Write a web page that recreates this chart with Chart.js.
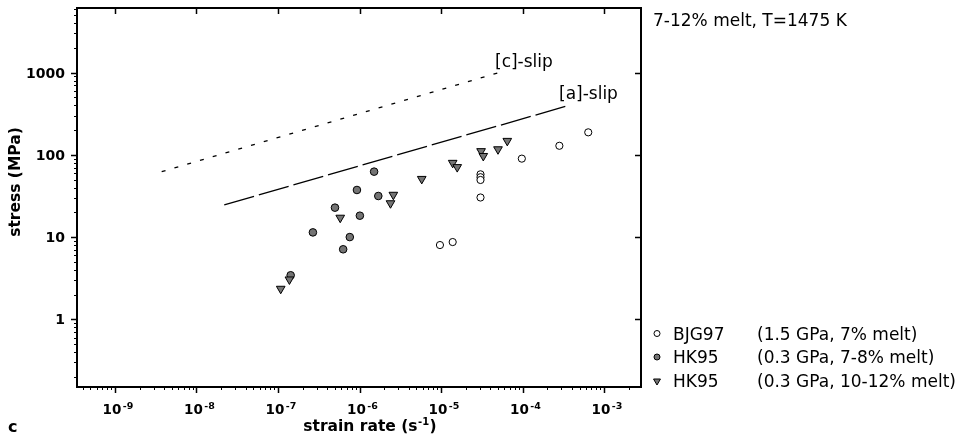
<!DOCTYPE html>
<html>
<head>
<meta charset="utf-8">
<script src="https://cdn.jsdelivr.net/npm/chart.js@4.4.0/dist/chart.umd.min.js"></script>
<style>
  html, body { margin: 0; padding: 0; background: #fff; }
</style>
</head>
<body>
<canvas id="grafico" width="968" height="438"></canvas>
<script>
// BJG97 (1.5 GPa, 7% melt)
var taxaBJG97 = [9.7e-6, 1.39e-5, 3.05e-5, 3.05e-5, 3.05e-5, 3.05e-5, 9.8e-5, 2.83e-4, 6.4e-4];
var tensaoBJG97 = [8.0, 8.7, 58, 53.5, 49.5, 30.3, 90, 129, 188];

// HK95 (0.3 GPa, 7-8% melt)
var taxaHK95a = [1.43e-7, 2.68e-7, 5.0e-7, 6.3e-7, 7.6e-7, 9.3e-7, 1.01e-6, 1.51e-6, 1.70e-6];
var tensaoHK95a = [3.43, 11.4, 22.8, 7.1, 10.0, 37.4, 18.2, 62.5, 31.6];

// HK95 (0.3 GPa, 10-12% melt)
var taxaHK95b = [1.08e-7, 1.38e-7, 5.8e-7, 2.4e-6, 2.6e-6, 5.8e-6, 1.39e-5, 1.58e-5, 3.1e-5, 3.3e-5, 5.0e-5, 6.5e-5];
var tensaoHK95b = [2.35, 3.05, 17.2, 25.8, 32.7, 51, 80, 71, 111, 97, 117, 148];

// linhas de fluxo [c]-slip e [a]-slip
var taxaSlipC = [3.74e-9, 5.56e-5];
var tensaoSlipC = [62.5, 1028];
var taxaSlipA = [2.19e-8, 3.48e-4];
var tensaoSlipA = [24.6, 393];

// ticks dos eixos
var expoentesX = [-9, -8, -7, -6, -5, -4, -3];
var valoresY = [1, 10, 100, 1000];

var legendas = [
    { nome: 'BJG97', desc: '(1.5 GPa, 7% melt)' },
    { nome: 'HK95', desc: '(0.3 GPa, 7-8% melt)' },
    { nome: 'HK95', desc: '(0.3 GPa, 10-12% melt)' }
];

function pontos(xs, ys) {
    var lista = [];
    for (var i = 0; i < xs.length; i++) {
        lista.push({ x: xs[i], y: ys[i] });
    }
    return lista;
}

var CINZA = '#747474';
var FONTE = "'DejaVu Sans'";

var estiloPontos = [
    { pointStyle: 'circle', radius: 3.6, backgroundColor: '#ffffff', rotation: 0 },
    { pointStyle: 'circle', radius: 3.8, backgroundColor: CINZA, rotation: 0 },
    { pointStyle: 'triangle', radius: 5, backgroundColor: CINZA, rotation: 180 }
];

// desenha moldura, ticks e todos os textos
var eixos = {
    id: 'eixos',
    afterDraw: function (chart) {
        var ctx = chart.ctx;
        var a = chart.chartArea;
        var sx = chart.scales.x;
        var sy = chart.scales.y;
        ctx.save();
        ctx.strokeStyle = '#000';
        ctx.fillStyle = '#000';
        ctx.lineWidth = 2;
        ctx.strokeRect(a.left, a.top, a.right - a.left, a.bottom - a.top);

        ctx.lineWidth = 1.5;
        ctx.beginPath();
        expoentesX.forEach(function (e) {
            var px = Math.round(sx.getPixelForValue(Math.pow(10, e))) + 0.5;
            ctx.moveTo(px, a.bottom); ctx.lineTo(px, a.bottom + 6);
            ctx.moveTo(px, a.top); ctx.lineTo(px, a.top + 6);
        });
        valoresY.forEach(function (v) {
            var py = Math.round(sy.getPixelForValue(v)) + 0.5;
            ctx.moveTo(a.left, py); ctx.lineTo(a.left - 6, py);
            ctx.moveTo(a.right, py); ctx.lineTo(a.right - 6, py);
        });
        ctx.stroke();

        // ticks menores (2..9 de cada década)
        ctx.lineWidth = 1;
        ctx.beginPath();
        for (var e = -11; e <= -1; e++) {
            for (var k = 2; k <= 9; k++) {
                var v = k * Math.pow(10, e);
                if (v <= sx.min || v >= sx.max) continue;
                var px = Math.round(sx.getPixelForValue(v)) + 0.5;
                ctx.moveTo(px, a.bottom); ctx.lineTo(px, a.bottom + 3);
            }
        }
        for (var e2 = -1; e2 <= 4; e2++) {
            for (var k2 = 2; k2 <= 9; k2++) {
                var v2 = k2 * Math.pow(10, e2);
                if (v2 <= sy.min || v2 >= sy.max) continue;
                var py = Math.round(sy.getPixelForValue(v2)) + 0.5;
                ctx.moveTo(a.left, py); ctx.lineTo(a.left - 3, py);
            }
        }
        ctx.stroke();

        // rótulos do eixo x: 10 com expoente sobrescrito
        expoentesX.forEach(function (e) {
            var px = sx.getPixelForValue(Math.pow(10, e));
            ctx.textAlign = 'left';
            ctx.textBaseline = 'alphabetic';
            ctx.font = 'bold 13.5px ' + FONTE;
            ctx.fillText('10', px - 12.5, 413.5);
            var w = ctx.measureText('10').width;
            ctx.font = 'bold 9.5px ' + FONTE;
            ctx.fillText(String(e), px - 12.5 + w + 1.5, 409);
        });

        // rótulos do eixo y
        ctx.font = 'bold 14px ' + FONTE;
        ctx.textAlign = 'right';
        valoresY.forEach(function (v) {
            var py = sy.getPixelForValue(v);
            ctx.fillText(String(v), 65, py + 5);
        });

        // títulos dos eixos
        ctx.save();
        ctx.translate(20, 182);
        ctx.rotate(-Math.PI / 2);
        ctx.textAlign = 'center';
        ctx.font = 'bold 15.5px ' + FONTE;
        ctx.fillText('stress (MPa)', 0, 0);
        ctx.restore();

        ctx.textAlign = 'left';
        ctx.font = 'bold 15.5px ' + FONTE;
        var t1 = 'strain rate (s';
        var w1 = ctx.measureText(t1).width;
        var w3 = ctx.measureText(')').width;
        ctx.font = 'bold 10px ' + FONTE;
        var w2 = ctx.measureText('-1').width;
        var x0 = 370 - (w1 + w2 + w3 + 1) / 2;
        ctx.font = 'bold 15.5px ' + FONTE;
        ctx.fillText(t1, x0, 431);
        ctx.fillText(')', x0 + w1 + w2 + 1, 431);
        ctx.font = 'bold 10px ' + FONTE;
        ctx.fillText('-1', x0 + w1 + 0.5, 425);

        ctx.font = 'bold 16px ' + FONTE;
        ctx.fillText('c', 8, 432);

        // textos normais
        ctx.font = '17px ' + FONTE;
        ctx.fillText('7-12% melt, T=1475 K', 653, 26);
        ctx.fillText('[c]-slip', 495, 67);
        ctx.fillText('[a]-slip', 559, 99);

        // legenda
        var linhas = [339.5, 363, 387];
        var centros = [333.5, 357, 381];
        legendas.forEach(function (item, i) {
            var est = estiloPontos[i];
            ctx.lineWidth = 1;
            ctx.strokeStyle = '#000';
            ctx.fillStyle = est.backgroundColor;
            Chart.helpers.drawPoint(ctx, {
                pointStyle: est.pointStyle,
                radius: est.pointStyle === 'triangle' ? 4 : 3,
                rotation: est.rotation,
                borderWidth: 1
            }, 657, centros[i]);
            ctx.fillStyle = '#000';
            ctx.fillText(item.nome, 673, linhas[i]);
            ctx.fillText(item.desc, 757, linhas[i]);
        });
        ctx.restore();
    }
};

var ctxGrafico = document.getElementById('grafico');

var grafico = new Chart(ctxGrafico, {
    type: 'scatter',
    data: {
        datasets: [
            {
                label: '[c]-slip',
                data: pontos(taxaSlipC, tensaoSlipC),
                showLine: true,
                borderColor: '#000',
                borderWidth: 1.3,
                borderDash: [4, 9.3],
                pointRadius: 0,
                order: 4
            },
            {
                label: '[a]-slip',
                data: pontos(taxaSlipA, tensaoSlipA),
                showLine: true,
                borderColor: '#000',
                borderWidth: 1.3,
                borderDash: [31, 5],
                pointRadius: 0,
                order: 3
            },
            {
                label: 'BJG97',
                data: pontos(taxaBJG97, tensaoBJG97),
                pointStyle: 'circle',
                pointRadius: 3.6,
                backgroundColor: '#ffffff',
                borderColor: '#000',
                borderWidth: 1,
                order: 2
            },
            {
                label: 'HK95 7-8%',
                data: pontos(taxaHK95a, tensaoHK95a),
                pointStyle: 'circle',
                pointRadius: 3.8,
                backgroundColor: CINZA,
                borderColor: '#000',
                borderWidth: 1,
                order: 1
            },
            {
                label: 'HK95 10-12%',
                data: pontos(taxaHK95b, tensaoHK95b),
                pointStyle: 'triangle',
                pointRadius: 5,
                rotation: 180,
                backgroundColor: CINZA,
                borderColor: '#000',
                borderWidth: 1,
                order: 0
            }
        ]
    },
    options: {
        responsive: false,
        devicePixelRatio: 1,
        animation: false,
        layout: {
            padding: { left: 77, top: 8, right: 327, bottom: 51 }
        },
        plugins: {
            legend: { display: false },
            tooltip: { enabled: false }
        },
        scales: {
            x: {
                type: 'logarithmic',
                display: false,
                min: 3.42e-10,
                max: 2.84e-3
            },
            y: {
                type: 'logarithmic',
                display: false,
                min: 0.150,
                max: 6120
            }
        }
    },
    plugins: [eixos]
});
</script>
</body>
</html>
